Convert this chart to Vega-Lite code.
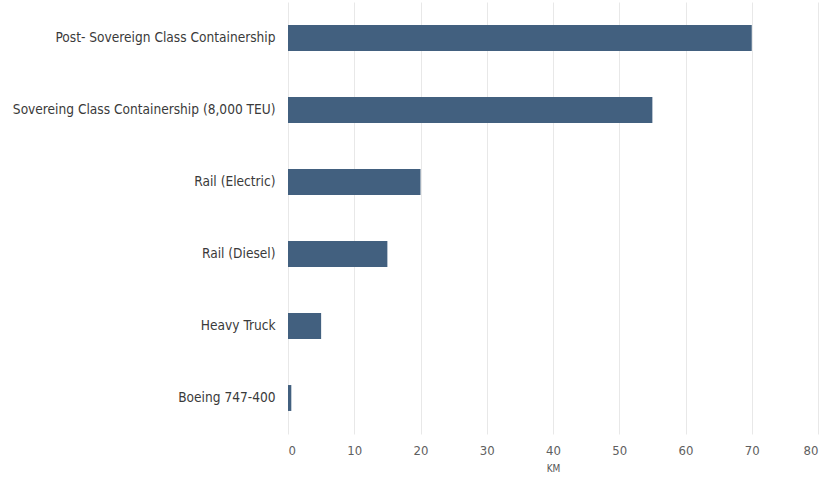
{
  "$schema": "https://vega.github.io/schema/vega-lite/v6.json",
  "width": 530,
  "height": 432,
  "autosize": "none",
  "padding": {"left": 288, "top": 2, "right": 4, "bottom": 46},
  "background": "white",
  "config": {
    "view": {"stroke": null},
    "font": "DejaVu Sans Condensed, sans-serif"
  },
  "data": {
    "values": [
      {"mode": "Post- Sovereign Class Containership", "km": 70},
      {"mode": "Sovereing Class Containership (8,000 TEU)", "km": 55},
      {"mode": "Rail (Electric)", "km": 20},
      {"mode": "Rail (Diesel)", "km": 15},
      {"mode": "Heavy Truck", "km": 5},
      {"mode": "Boeing 747-400", "km": 0.5}
    ]
  },
  "mark": {"type": "bar", "color": "#42607F"},
  "encoding": {
    "y": {
      "field": "mode",
      "type": "nominal",
      "sort": null,
      "scale": {"paddingInner": 0.64, "paddingOuter": 0.32},
      "axis": {
        "title": null,
        "domain": false,
        "ticks": false,
        "labelPadding": 13,
        "labelFontSize": 13.6,
        "labelColor": "#3a3a3a",
        "labelLimit": 300
      }
    },
    "x": {
      "field": "km",
      "type": "quantitative",
      "scale": {"domain": [0, 80], "nice": false},
      "axis": {
        "title": "KM",
        "titleFontSize": 10,
        "titleFontWeight": "normal",
        "titleColor": "#555555",
        "titlePadding": 6,
        "values": [0, 10, 20, 30, 40, 50, 60, 70, 80],
        "domain": false,
        "ticks": false,
        "grid": true,
        "gridColor": "#e8e8e8",
        "labelFontSize": 13,
        "labelColor": "#606060",
        "labelPadding": 10
      }
    }
  }
}
